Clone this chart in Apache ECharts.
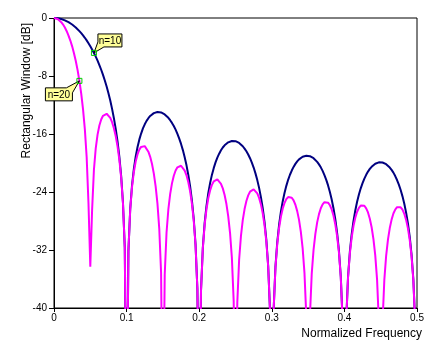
<!DOCTYPE html>
<html><head><meta charset="utf-8">
<script src="https://cdn.jsdelivr.net/npm/echarts@6/dist/echarts.min.js"></script>
<style>html,body{margin:0;padding:0;background:#fff}#c{width:435px;height:351px}</style>
</head><body><div id="c"></div>
<script>
// Normalized frequency samples
const freq = [
0,0.0025,0.005,0.0075,0.01,0.0125,0.015,0.0175,0.02,0.0225,0.025,0.0275,0.03,0.0325,0.035,0.0375,0.04,0.0425,0.045,0.0475,
0.05,0.0525,0.055,0.0575,0.06,0.0625,0.065,0.0675,0.07,0.0725,0.075,0.0775,0.08,0.0825,0.085,0.0875,0.09,0.0925,0.095,0.0975,
0.1,0.1025,0.105,0.1075,0.11,0.1125,0.115,0.1175,0.12,0.1225,0.125,0.1275,0.13,0.1325,0.135,0.1375,0.14,0.1425,0.145,0.1475,
0.15,0.1525,0.155,0.1575,0.16,0.1625,0.165,0.1675,0.17,0.1725,0.175,0.1775,0.18,0.1825,0.185,0.1875,0.19,0.1925,0.195,0.1975,
0.2,0.2025,0.205,0.2075,0.21,0.2125,0.215,0.2175,0.22,0.2225,0.225,0.2275,0.23,0.2325,0.235,0.2375,0.24,0.2425,0.245,0.2475,
0.25,0.2525,0.255,0.2575,0.26,0.2625,0.265,0.2675,0.27,0.2725,0.275,0.2775,0.28,0.2825,0.285,0.2875,0.29,0.2925,0.295,0.2975,
0.3,0.3025,0.305,0.3075,0.31,0.3125,0.315,0.3175,0.32,0.3225,0.325,0.3275,0.33,0.3325,0.335,0.3375,0.34,0.3425,0.345,0.3475,
0.35,0.3525,0.355,0.3575,0.36,0.3625,0.365,0.3675,0.37,0.3725,0.375,0.3775,0.38,0.3825,0.385,0.3875,0.39,0.3925,0.395,0.3975,
0.4,0.4025,0.405,0.4075,0.41,0.4125,0.415,0.4175,0.42,0.4225,0.425,0.4275,0.43,0.4325,0.435,0.4375,0.44,0.4425,0.445,0.4475,
0.45,0.4525,0.455,0.4575,0.46,0.4625,0.465,0.4675,0.47,0.4725,0.475,0.4775,0.48,0.4825,0.485,0.4875,0.49,0.4925,0.495,0.4975,
0.5
];
// n = 10 response, dB
const n10 = [
0,-0.01,-0.03,-0.08,-0.14,-0.22,-0.32,-0.44,-0.58,-0.73,-0.90,-1.10,-1.31,-1.55,-1.81,-2.09,-2.40,-2.73,-3.09,-3.48,
-3.89,-4.34,-4.82,-5.33,-5.89,-6.49,-7.14,-7.85,-8.62,-9.46,-10.37,-11.39,-12.53,-13.82,-15.29,-17.01,-19.11,-21.78,-25.48,-31.70,
-60,-32.11,-26.31,-23.04,-20.80,-19.12,-17.82,-16.78,-15.94,-15.23,-14.66,-14.19,-13.82,-13.51,-13.28,-13.12,-13.02,-12.96,-12.97,-13.03,
-13.14,-13.30,-13.51,-13.77,-14.10,-14.47,-14.90,-15.40,-15.98,-16.63,-17.37,-18.22,-19.20,-20.32,-21.65,-23.23,-25.20,-27.73,-31.30,-37.40,
-60,-37.59,-31.68,-28.30,-25.95,-24.17,-22.78,-21.64,-20.71,-19.92,-19.26,-18.71,-18.25,-17.86,-17.56,-17.32,-17.15,-17.02,-16.96,-16.95,
-16.99,-17.09,-17.23,-17.43,-17.69,-18.01,-18.38,-18.82,-19.34,-19.94,-20.63,-21.43,-22.36,-23.43,-24.71,-26.24,-28.15,-30.65,-34.17,-40.22,
-60,-40.32,-34.37,-30.94,-28.55,-26.74,-25.30,-24.13,-23.15,-22.32,-21.62,-21.04,-20.54,-20.12,-19.78,-19.50,-19.29,-19.13,-19.04,-18.99,
-19.00,-19.06,-19.17,-19.34,-19.57,-19.85,-20.19,-20.60,-21.09,-21.66,-22.32,-23.09,-23.99,-25.03,-26.28,-27.79,-29.67,-32.13,-35.63,-41.65,
-60,-41.70,-35.72,-32.27,-29.85,-28.01,-26.55,-25.34,-24.34,-23.49,-22.77,-22.15,-21.63,-21.18,-20.82,-20.52,-20.29,-20.10,-19.98,-19.91,
-19.89,-19.93,-20.02,-20.16,-20.37,-20.63,-20.95,-21.33,-21.80,-22.35,-22.98,-23.73,-24.60,-25.63,-26.85,-28.33,-30.20,-32.64,-36.11,-42.11,
-60
];
// n = 20 response, dB
const n20 = [
0,-0.04,-0.14,-0.32,-0.58,-0.91,-1.32,-1.82,-2.42,-3.11,-3.91,-4.85,-5.93,-7.19,-8.67,-10.43,-12.60,-15.37,-19.20,-25.59,
-34.3,-26.45,-20.93,-17.97,-16.09,-14.83,-14.00,-13.49,-13.24,-13.21,-13.38,-13.77,-14.37,-15.20,-16.29,-17.70,-19.55,-22.02,-25.59,-31.73,
-60,-32.14,-26.42,-23.28,-21.24,-19.81,-18.82,-18.16,-17.78,-17.61,-17.67,-17.94,-18.44,-19.15,-20.14,-21.46,-23.22,-25.60,-29.08,-35.14,
-60,-35.41,-29.62,-26.41,-24.30,-22.81,-21.76,-21.04,-20.60,-20.38,-20.38,-20.60,-21.04,-21.70,-22.65,-23.92,-25.64,-27.97,-31.41,-37.43,
-60,-37.62,-31.79,-28.54,-26.39,-24.86,-23.78,-23.02,-22.55,-22.30,-22.27,-22.46,-22.87,-23.50,-24.42,-25.66,-27.35,-29.66,-33.07,-39.06,
-60,-39.20,-33.34,-30.07,-27.89,-26.35,-25.24,-24.46,-23.96,-23.69,-23.64,-23.81,-24.20,-24.81,-25.71,-26.93,-28.59,-30.89,-34.28,-40.25,
-60,-40.35,-34.48,-31.18,-28.99,-27.43,-26.30,-25.51,-24.99,-24.70,-24.63,-24.79,-25.16,-25.76,-26.64,-27.84,-29.49,-31.77,-35.15,-41.10,
-60,-41.17,-35.28,-31.98,-29.77,-28.19,-27.05,-26.24,-25.71,-25.41,-25.33,-25.47,-25.83,-26.41,-27.28,-28.48,-30.11,-32.37,-35.74,-41.68,
-60,-41.73,-35.83,-32.51,-30.29,-28.70,-27.55,-26.72,-26.18,-25.87,-25.78,-25.90,-26.25,-26.82,-27.68,-28.86,-30.49,-32.74,-36.09,-42.02,
-60,-42.04,-36.13,-32.80,-30.57,-28.97,-27.81,-26.97,-26.42,-26.10,-25.99,-26.11,-26.44,-27.01,-27.85,-29.02,-30.64,-32.88,-36.22,-42.14,
-60
];
const seriesNames = ['n=10', 'n=20'];
const seriesColors = ['#000080', '#ff00ff'];
const xTitle = 'Normalized Frequency';
const yTitle = 'Rectangular Window [dB]';
// callout labels: which series and which sample they point to
const calloutSeries = [0, 1];
const calloutIndex = [22, 14];

const FONT = 'Arial, "Liberation Sans", sans-serif';
const chart = echarts.init(document.getElementById('c'), null, {renderer: 'canvas'});
const mk = arr => freq.map((f, i) => [f, arr[i]]);
const allSeries = [n10, n20];

chart.setOption({
  animation: false,
  backgroundColor: '#fff',
  grid: {left: 54, right: 18, top: 18, bottom: 43, show: true, borderColor: '#000', borderWidth: 1, backgroundColor: '#fff'},
  xAxis: {
    type: 'value', min: 0, max: 0.5, interval: 0.1,
    axisLine: {show: true, onZero: false, lineStyle: {color: '#000', width: 1}},
    axisTick: {show: true, length: 4, lineStyle: {color: '#000'}},
    axisLabel: {color: '#000', fontSize: 10, fontFamily: FONT, margin: 5,
      formatter: v => String(Math.round(v * 10) / 10)},
    splitLine: {show: false}
  },
  yAxis: {
    type: 'value', min: -40, max: 0, interval: 8,
    axisLine: {show: true, lineStyle: {color: '#000', width: 1}},
    axisTick: {show: true, length: 5, lineStyle: {color: '#000'}},
    axisLabel: {color: '#000', fontSize: 10, fontFamily: FONT, margin: 7},
    splitLine: {show: false}
  },
  series: allSeries.map((arr, s) => ({
    name: seriesNames[s], type: 'line', data: mk(arr), showSymbol: false, symbol: 'none',
    clip: true, lineStyle: {color: seriesColors[s], width: 2}, itemStyle: {color: seriesColors[s]},
    z: 2 + s
  }))
});

const gfx = [];
gfx.push({type: 'text', x: 27, y: 23, rotation: Math.PI / 2, z: 100,
  style: {text: yTitle, fill: '#000', font: '12px ' + FONT, align: 'right', verticalAlign: 'middle'}});
gfx.push({type: 'text', x: 422, y: 334, z: 100,
  style: {text: xTitle, fill: '#000', font: '12px ' + FONT, align: 'right', verticalAlign: 'middle'}});

calloutSeries.forEach((s, c) => {
  const i = calloutIndex[c];
  const M = chart.convertToPixel({gridIndex: 0}, [freq[i], allSeries[s][i]]);
  let pts, bx, by, bw, bh = 13;
  if (c === 0) {
    bw = 24; bx = M[0] + 4; by = M[1] - 19;
    pts = [[bx, by], [bx + bw, by], [bx + bw, by + bh], [bx + 6, by + bh], [M[0], M[1]], [bx, by + 8]];
  } else {
    bw = 27; bx = M[0] - 34; by = M[1] + 7;
    pts = [[bx, by], [bx + 21, by], [M[0], M[1]], [bx + bw, by + 5], [bx + bw, by + bh], [bx, by + bh]];
  }
  gfx.push({type: 'polygon', z: 100, shape: {points: pts},
    style: {fill: '#ffff99', stroke: '#000', lineWidth: 1}});
  gfx.push({type: 'text', z: 101, x: bx + bw / 2, y: by + bh / 2 + 0.5,
    style: {text: seriesNames[s], fill: '#000', font: '10px ' + FONT, align: 'center', verticalAlign: 'middle'}});
  gfx.push({type: 'rect', z: 102, shape: {x: M[0] - 2.5, y: M[1] - 2.5, width: 5, height: 5},
    style: {fill: 'none', stroke: '#00cc00', lineWidth: 1}});
});
chart.setOption({graphic: gfx});
</script>
</body></html>
